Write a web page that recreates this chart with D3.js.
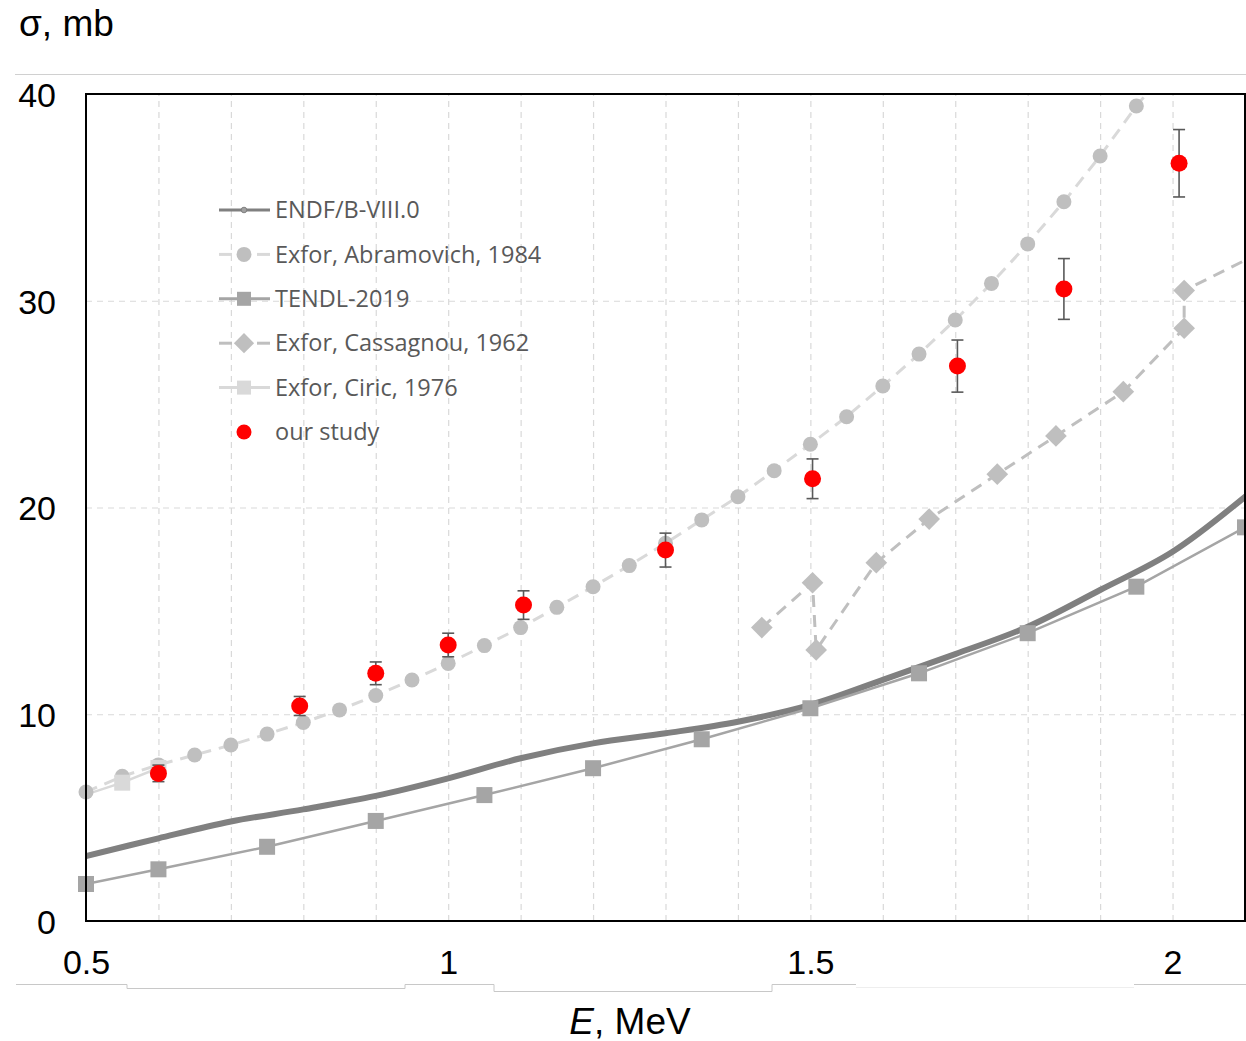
<!DOCTYPE html>
<html><head><meta charset="utf-8">
<script src="https://cdn.jsdelivr.net/npm/d3@7"></script>
<style>body{margin:0;background:#fff}</style>
</head><body>
<svg id="chart" width="1246" height="1041"></svg>
<script>
// ---- data ----
const endfE     = [0.5,0.6,0.7,0.8,0.9,1.0,1.1,1.2,1.3,1.4,1.5,1.6,1.7,1.8,1.9,2.0,2.1];
const endfSigma = [3.14,4.00,4.81,5.40,6.05,6.90,7.87,8.59,9.08,9.64,10.45,11.66,12.91,14.23,16.01,17.86,20.52];

const abramE     = [0.50,0.55,0.60,0.65,0.70,0.75,0.80,0.85,0.90,0.95,1.00,1.05,1.10,1.15,1.20,1.25,1.30,1.35,1.40,1.45,1.50,1.55,1.60,1.65,1.70,1.75,1.80,1.85,1.90,1.95,2.00];
const abramSigma = [6.24,7.00,7.55,8.03,8.51,9.04,9.60,10.21,10.91,11.66,12.46,13.32,14.19,15.17,16.17,17.19,18.27,19.40,20.52,21.78,23.06,24.39,25.88,27.42,29.07,30.84,32.75,34.79,37.00,39.42,41.5];

const tendlE     = [0.5,0.6,0.75,0.9,1.05,1.2,1.35,1.5,1.65,1.8,1.95,2.1];
const tendlSigma = [1.79,2.50,3.59,4.84,6.09,7.39,8.79,10.29,11.98,13.92,16.17,19.04];

const cassE     = [1.433,1.503,1.508,1.591,1.664,1.758,1.839,1.932,2.016,2.016,2.2];
const cassSigma = [14.19,16.36,13.11,17.33,19.44,21.61,23.46,25.60,28.67,30.49,33.7];

const ciricE     = [0.48,0.55,0.60];
const ciricSigma = [5.89,6.69,7.40];

const ourE     = [0.6,0.795,0.9,1.0,1.104,1.3,1.503,1.703,1.85,2.009];
const ourSigma = [7.14,10.40,11.98,13.35,15.28,17.94,21.39,26.84,30.57,36.65];
const ourErr   = [0.40,0.46,0.55,0.57,0.69,0.82,0.96,1.26,1.47,1.63];

const xTickValues = [0.5,1,1.5,2];
const xTickLabels = ["0.5","1","1.5","2"];
const yTickValues = [0,10,20,30,40];
const yTickLabels = ["0","10","20","30","40"];
const xGrid = d3.range(6,21).map(d=>d/10);
const yGrid = [10,20,30];

const legendLabels = ["ENDF/B-VIII.0","Exfor, Abramovich, 1984","TENDL-2019","Exfor, Cassagnou, 1962","Exfor, Ciric, 1976","our study"];

// ---- layout ----
const svg = d3.select("#chart");
const L=86, R=1245, T=94, B=921;
const x = d3.scaleLinear().domain([0.5,2.1]).range([L,R]);
const y = d3.scaleLinear().domain([0,40]).range([B,T]);
const zip=(a,b)=>a.map((v,i)=>[v,b[i]]);

// decorative frame lines
svg.append("line").attr("x1",15).attr("x2",1246).attr("y1",74.5).attr("y2",74.5).attr("stroke","#d0d0d0").attr("stroke-width",1);
svg.append("path").attr("d","M16,984.5H127V988.5H405V984.5H494V991.5H772V984.5H856").attr("fill","none").attr("stroke","#c8c8c8");
svg.append("path").attr("d","M856,987.5H1134").attr("fill","none").attr("stroke","#eeeeee");
svg.append("path").attr("d","M1134,984.5H1246").attr("fill","none").attr("stroke","#c8c8c8");

const defs = svg.append("defs");
defs.append("clipPath").attr("id","plotclip").append("rect").attr("x",L).attr("y",T).attr("width",R-L).attr("height",B-T);
defs.append("clipPath").attr("id","markclip").append("rect").attr("x",L-12).attr("y",T-12).attr("width",R-L+12).attr("height",B-T+24);

// grid
const gx = svg.append("g").attr("transform",`translate(0,${B})`)
  .call(d3.axisBottom(x).tickValues(xGrid).tickSize(-(B-T)).tickFormat(""));
gx.select(".domain").remove();
gx.selectAll("line").attr("stroke","#d9d9d9").attr("stroke-width",1.2).attr("stroke-dasharray","6,5");
const gy = svg.append("g").attr("transform",`translate(${L},0)`)
  .call(d3.axisLeft(y).tickValues(yGrid).tickSize(-(R-L)).tickFormat(""));
gy.select(".domain").remove();
gy.selectAll("line").attr("stroke","#d9d9d9").attr("stroke-width",1.2).attr("stroke-dasharray","6,5");

// axes labels
const ax = svg.append("g").attr("transform",`translate(0,${B})`)
  .call(d3.axisBottom(x).tickValues(xTickValues).tickSize(0).tickPadding(0).tickFormat((d,i)=>xTickLabels[i]));
ax.select(".domain").remove();
ax.selectAll("text").attr("dy",null).attr("y",53).attr("font-family","Liberation Sans, Arial, sans-serif").attr("font-size",34).attr("fill","#000");
const ay = svg.append("g").attr("transform",`translate(56,0)`)
  .call(d3.axisLeft(y).tickValues(yTickValues).tickSize(0).tickPadding(0).tickFormat((d,i)=>yTickLabels[i]));
ay.select(".domain").remove();
ay.selectAll("text").attr("dy","0.36em").attr("x",0).attr("font-family","Liberation Sans, Arial, sans-serif").attr("font-size",34).attr("fill","#000");

svg.append("text").attr("x",19).attr("y",36).attr("font-family","Liberation Sans, Arial, sans-serif").attr("font-size",37).attr("fill","#000").text("σ, mb");
const xt = svg.append("text").attr("x",630).attr("y",1034).attr("text-anchor","middle").attr("font-family","Liberation Sans, Arial, sans-serif").attr("font-size",37).attr("fill","#000");
xt.append("tspan").attr("font-style","italic").text("E");
xt.append("tspan").text(", MeV");

const lines = svg.append("g").attr("clip-path","url(#plotclip)");
const marks = svg.append("g").attr("clip-path","url(#markclip)");
const lin = d3.line().x(d=>x(d[0])).y(d=>y(d[1]));
const smooth = d3.line().x(d=>x(d[0])).y(d=>y(d[1])).curve(d3.curveCatmullRom.alpha(0.5));
const inDom = d=>d[0]>=0.5-1e-9 && d[0]<=2.1+1e-9 && d[1]<=40;

// ENDF
lines.append("path").datum(zip(endfE,endfSigma)).attr("d",smooth).attr("fill","none").attr("stroke","#808080").attr("stroke-width",6).attr("stroke-linecap","round");
// Abramovich
const abr = zip(abramE,abramSigma);
lines.append("path").datum(abr).attr("d",lin).attr("fill","none").attr("stroke","#d9d9d9").attr("stroke-width",3).attr("stroke-dasharray","12,8");
marks.selectAll(".abr").data(abr.filter(inDom)).join("circle").attr("cx",d=>x(d[0])).attr("cy",d=>y(d[1])).attr("r",7.5).attr("fill","#bfbfbf");
// TENDL
const ten = zip(tendlE,tendlSigma);
lines.append("path").datum(ten).attr("d",lin).attr("fill","none").attr("stroke","#a5a5a5").attr("stroke-width",2.5);
const tenClip = svg.append("g").attr("clip-path","url(#plotclip)");
marks.selectAll(".ten").data(ten.filter(d=>d[0]<2.05)).join("rect").attr("x",d=>x(d[0])-8).attr("y",d=>y(d[1])-8).attr("width",16).attr("height",16).attr("fill","#a5a5a5");
tenClip.selectAll(".ten2").data(ten.filter(d=>d[0]>=2.05)).join("rect").attr("x",d=>x(d[0])-8).attr("y",d=>y(d[1])-8).attr("width",16).attr("height",16).attr("fill","#a5a5a5");
// Cassagnou
const cas = zip(cassE,cassSigma);
lines.append("path").datum(cas).attr("d",lin).attr("fill","none").attr("stroke","#bfbfbf").attr("stroke-width",3).attr("stroke-dasharray","12,8");
marks.selectAll(".cas").data(cas.filter(inDom)).join("path").attr("d",d3.symbol(d3.symbolDiamond2,300)).attr("transform",d=>`translate(${x(d[0])},${y(d[1])})`).attr("fill","#bfbfbf");
// Ciric
const cir = zip(ciricE,ciricSigma);
lines.append("path").datum(cir).attr("d",lin).attr("fill","none").attr("stroke","#d9d9d9").attr("stroke-width",2.5);
marks.selectAll(".cir").data(cir.filter(inDom)).join("rect").attr("x",d=>x(d[0])-8).attr("y",d=>y(d[1])-8).attr("width",16).attr("height",16).attr("fill","#d9d9d9");
// our study with error bars
const ours = ourE.map((e,i)=>({e, s:ourSigma[i], err:ourErr[i]}));
const eb = svg.append("g").attr("stroke","#595959").attr("stroke-width",1.6);
ours.forEach(d=>{
  const cx=x(d.e), y1=y(d.s+d.err), y2=y(d.s-d.err);
  eb.append("line").attr("x1",cx).attr("x2",cx).attr("y1",y1).attr("y2",y2);
  eb.append("line").attr("x1",cx-6).attr("x2",cx+6).attr("y1",y1).attr("y2",y1);
  eb.append("line").attr("x1",cx-6).attr("x2",cx+6).attr("y1",y2).attr("y2",y2);
});
svg.selectAll(".our").data(ours).join("circle").attr("cx",d=>x(d.e)).attr("cy",d=>y(d.s)).attr("r",8.5).attr("fill","#ff0000");

// plot frame
svg.append("rect").attr("x",L).attr("y",T).attr("width",R-L).attr("height",B-T).attr("fill","none").attr("stroke","#000").attr("stroke-width",2);

// legend
const lg = svg.append("g");
const ly0=210, ldy=44.4, lx1=219, lx2=270, lmx=244, ltx=275;
legendLabels.forEach((lab,i)=>{
  const yy = ly0 + i*ldy;
  const g = lg.append("g");
  if(i===0){
    g.append("line").attr("x1",lx1).attr("x2",lx2).attr("y1",yy).attr("y2",yy).attr("stroke","#808080").attr("stroke-width",3);
    g.append("circle").attr("cx",lmx).attr("cy",yy).attr("r",2.8).attr("fill","#a0a0a0").attr("stroke","#808080").attr("stroke-width",1);
  } else if(i===1 || i===3){
    const col = i===1?"#d9d9d9":"#bfbfbf";
    g.append("line").attr("x1",lx1).attr("x2",lx1+13).attr("y1",yy).attr("y2",yy).attr("stroke",col).attr("stroke-width",3);
    g.append("line").attr("x1",lx2-13).attr("x2",lx2).attr("y1",yy).attr("y2",yy).attr("stroke",col).attr("stroke-width",3);
    if(i===1) g.append("circle").attr("cx",lmx).attr("cy",yy).attr("r",7.5).attr("fill","#bfbfbf");
    else g.append("path").attr("d",d3.symbol(d3.symbolDiamond2,260)).attr("transform",`translate(${lmx},${yy})`).attr("fill","#bfbfbf");
  } else if(i===2 || i===4){
    const col = i===2?"#a5a5a5":"#d9d9d9";
    g.append("line").attr("x1",lx1).attr("x2",lx2).attr("y1",yy).attr("y2",yy).attr("stroke",col).attr("stroke-width",3);
    g.append("rect").attr("x",lmx-7).attr("y",yy-7).attr("width",14).attr("height",14).attr("fill",col);
  } else {
    g.append("circle").attr("cx",lmx).attr("cy",yy).attr("r",7.5).attr("fill","#ff0000");
  }
  g.append("text").attr("x",ltx).attr("y",yy).attr("dy","0.35em").attr("font-family","'Open Sans', Lato, sans-serif").attr("font-size",23.5).attr("fill","#595959").text(lab);
});
</script>
</body></html>
